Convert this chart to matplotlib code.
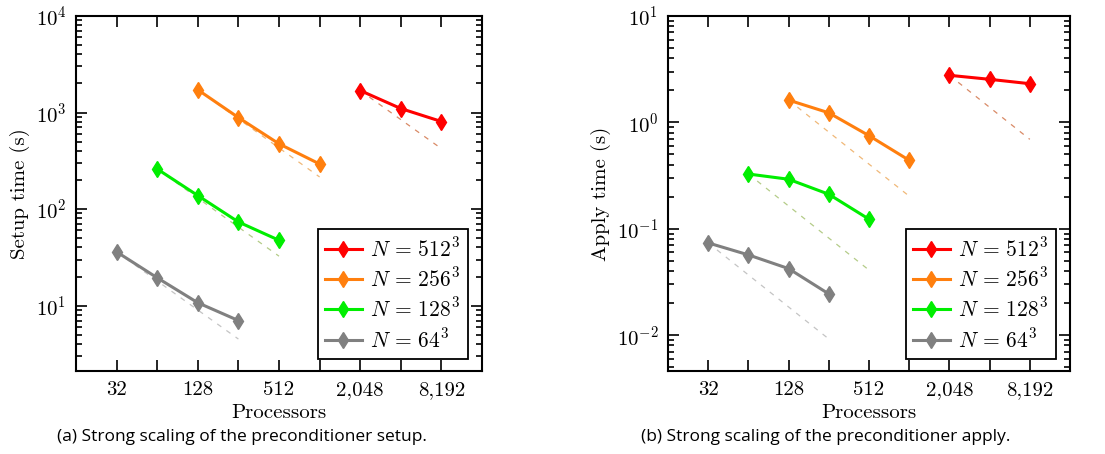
import numpy as np
import matplotlib
matplotlib.use("Agg")
import matplotlib.pyplot as plt
from matplotlib.ticker import FixedLocator, LogLocator, NullFormatter

plt.rcParams['font.family'] = 'serif'
plt.rcParams['font.serif'] = ['cmr10']
plt.rcParams['mathtext.fontset'] = 'cm'
plt.rcParams['axes.formatter.use_mathtext'] = True
plt.rcParams['axes.unicode_minus'] = False

# --------------------- data ---------------------
series_labels = [r'$N\,=\,512^3$', r'$N\,=\,256^3$', r'$N\,=\,128^3$', r'$N\,=\,64^3$']
series_colors = ['#ff0000', '#ff7f0e', '#00ee00', '#808080']
ideal_colors = ['#d98a66', '#f0b878', '#b4cc88', '#c4c4c4']

procs_512 = [2048, 4096, 8192]
procs_256 = [128, 256, 512, 1024]
procs_128 = [64, 128, 256, 512]
procs_64 = [32, 64, 128, 256]
procs = [procs_512, procs_256, procs_128, procs_64]

setup_512 = [1690, 1100, 807]
setup_256 = [1720, 887, 474, 293]
setup_128 = [260, 138, 73.5, 47.5]
setup_64 = [36, 19.4, 10.7, 7.0]
setup = [setup_512, setup_256, setup_128, setup_64]

apply_512 = [2.77, 2.54, 2.31]
apply_256 = [1.62, 1.23, 0.75, 0.44]
apply_128 = [0.327, 0.292, 0.211, 0.123]
apply_64 = [0.0736, 0.0568, 0.0422, 0.0244]
apply_ = [apply_512, apply_256, apply_128, apply_64]

xticks_all = [32, 64, 128, 256, 512, 1024, 2048, 4096, 8192]
xtick_labels = ['32', '', '128', '', '512', '', '2,048', '', '8,192']

fig = plt.figure(figsize=(11.05, 4.54), dpi=100)
W, H = 1105, 454
ax1 = fig.add_axes([76 / W, 1 - 371 / H, 406 / W, 355 / H])
ax2 = fig.add_axes([668 / W, 1 - 371 / H, 402 / W, 355 / H])


def draw(ax, values, ylabel, ylim):
    for p, v, c, ci, lab in zip(procs, values, series_colors, ideal_colors, series_labels):
        p = np.array(p, dtype=float)
        v = np.array(v, dtype=float)
        # ideal scaling reference line
        ax.plot(p, v[0] * p[0] / p, ls=(0, (4, 5)), lw=0.9, color=ci)
        ax.plot(p, v, '-', color=c, lw=2.2, marker='d', ms=8, label=lab)
    ax.set_xscale('log', base=2)
    ax.set_yscale('log')
    ax.set_xlim(16, 16384)
    ax.set_ylim(*ylim)
    ax.xaxis.set_major_locator(FixedLocator(xticks_all))
    ax.set_xticklabels(xtick_labels)
    ax.xaxis.set_minor_locator(FixedLocator([]))
    ax.yaxis.set_major_locator(LogLocator(base=10))
    ax.yaxis.set_minor_locator(LogLocator(base=10, subs=np.arange(2, 10)))
    ax.yaxis.set_minor_formatter(NullFormatter())
    ax.tick_params(which='both', direction='in', top=True, right=True,
                   labelsize=15, width=1.2)
    ax.tick_params(which='major', length=8, pad=7)
    ax.tick_params(which='minor', length=4)
    for s in ax.spines.values():
        s.set_linewidth(1.5)
    ax.set_xlabel('Processors', fontsize=15, labelpad=4)
    ax.set_ylabel(ylabel, fontsize=15, labelpad=4)
    leg = ax.legend(loc='lower right', bbox_to_anchor=(0.965, 0.035), fontsize=15.5,
                    fancybox=False, framealpha=1, edgecolor='black',
                    handlelength=1.7, borderpad=0.35, labelspacing=0.3,
                    handletextpad=0.4, borderaxespad=0)
    leg.get_frame().set_linewidth(1.3)


draw(ax1, setup, 'Setup time (s)', (2.1, 1e4))
draw(ax2, apply_, 'Apply time (s)', (0.0046, 10))

fig.text(242 / W, 1 - 437 / H, '(a) Strong scaling of the preconditioner setup.',
         ha='center', va='center', fontsize=12.5, family='Open Sans')
fig.text(826 / W, 1 - 437 / H, '(b) Strong scaling of the preconditioner apply.',
         ha='center', va='center', fontsize=12.5, family='Open Sans')

fig.savefig('out.png', dpi=100)
